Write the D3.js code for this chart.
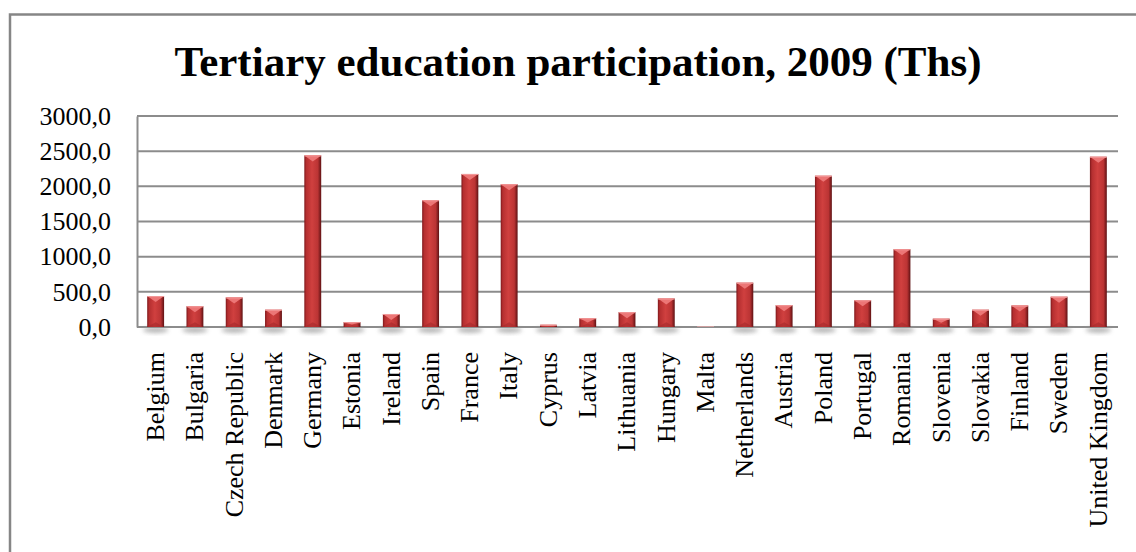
<!DOCTYPE html>
<html>
<head>
<meta charset="utf-8">
<script src="https://cdn.jsdelivr.net/npm/d3@7"></script>
<style>
    body { margin: 0; background: #fff; }
    svg { display: block; font-family: "Liberation Serif", "Times New Roman", serif; }
</style>
</head>
<body>
<svg width="1136" height="552"></svg>
<script>
// Исходные данные
const countries = ["Belgium", "Bulgaria", "Czech Republic", "Denmark", "Germany", "Estonia",
    "Ireland", "Spain", "France", "Italy", "Cyprus", "Latvia", "Lithuania", "Hungary", "Malta",
    "Netherlands", "Austria", "Poland", "Portugal", "Romania", "Slovenia", "Slovakia",
    "Finland", "Sweden", "United Kingdom"];
const values = [440, 295, 420, 245, 2440, 69, 185, 1802, 2176, 2030, 31, 125, 211, 405, 10,
    630, 310, 2150, 380, 1105, 118, 245, 305, 430, 2420];
const yTicks = [0, 500, 1000, 1500, 2000, 2500, 3000];
const title = "Tertiary education participation, 2009 (Ths)";

const data = countries.map((c, i) => ({label: c, value: values[i]}));

let svg = d3.select("svg");

attr_area = {
    left: 137,
    right: 1118,
    top: 116,
    bottom: 327
};

// внешняя рамка
svg.append("rect")
    .attr("x", 10).attr("y", 14.5)
    .attr("width", 1140).attr("height", 560)
    .attr("fill", "none")
    .attr("stroke", "#868686")
    .attr("stroke-width", 2.5);

svg.append("text")
    .attr("x", 578).attr("y", 76)
    .attr("text-anchor", "middle")
    .style("font-size", "43px")
    .style("font-weight", "bold")
    .text(title);

// градиенты и тень
let defs = svg.append("defs");
let grad = defs.append("linearGradient").attr("id", "barGrad")
    .attr("x1", "0%").attr("x2", "100%").attr("y1", "0%").attr("y2", "0%");
[["0%", "#7e181b"], ["12%", "#b52f30"], ["45%", "#d0403f"], ["80%", "#bb3434"], ["100%", "#5e1113"]]
    .forEach(s => grad.append("stop").attr("offset", s[0]).attr("stop-color", s[1]));
defs.append("filter").attr("id", "blur")
    .attr("x", "-50%").attr("y", "-50%").attr("width", "200%").attr("height", "200%")
    .append("feGaussianBlur").attr("stdDeviation", 2);

function drawGraph() {
    const [scX, scY] = createAxis(svg, data, attr_area);
    createBars(svg, data, scX, scY, attr_area);
}

// Функция создания осей и шкал
function createAxis(svg, data, area) {
    let scaleX = d3.scaleBand()
        .domain(data.map(d => d.label))
        .range([area.left - 1, area.right])
        .paddingInner(0.57)
        .paddingOuter(0.285);

    let scaleY = d3.scaleLinear()
        .domain([0, 3000])
        .range([area.bottom, area.top]);

    // сетка
    svg.append("g")
        .selectAll("line")
        .data(yTicks)
        .enter()
        .append("line")
        .attr("x1", area.left)
        .attr("x2", area.right)
        .attr("y1", d => scaleY(d))
        .attr("y2", d => scaleY(d))
        .attr("stroke", "#8c8c8c")
        .attr("stroke-width", 2);

    let axisY = d3.axisLeft(scaleY)
        .tickValues(yTicks)
        .tickSize(0)
        .tickPadding(26)
        .tickFormat(d => d3.format(".1f")(d).replace(".", ","));

    let gY = svg.append("g")
        .attr("transform", `translate(${area.left}, 0)`)
        .call(axisY);
    gY.select(".domain").attr("stroke", "#8c8c8c").attr("stroke-width", 2);
    gY.selectAll("text")
        .style("font-family", "Liberation Serif")
        .style("font-size", "26px")
        .attr("fill", "#000");

    let axisX = d3.axisBottom(scaleX).tickSize(0).tickPadding(0);
    let gX = svg.append("g")
        .attr("transform", `translate(0, ${area.bottom})`)
        .call(axisX);
    gX.select(".domain").remove();
    gX.selectAll("text")
        .style("font-family", "Liberation Serif")
        .style("font-size", "26px")
        .attr("fill", "#000")
        .style("text-anchor", "end")
        .attr("x", -25)
        .attr("y", 0)
        .attr("dy", "0.32em")
        .attr("transform", "rotate(-90)");

    return [scaleX, scaleY];
}

// Функция рисует столбцы
function createBars(svg, data, scaleX, scaleY, area) {
    const w = scaleX.bandwidth();
    let g = svg.append("g");

    // тени под столбцами
    g.selectAll(".shadow")
        .data(data)
        .enter()
        .append("ellipse")
        .attr("cx", d => scaleX(d.label) + w / 2)
        .attr("cy", area.bottom + 3)
        .attr("rx", w * 0.75)
        .attr("ry", 3)
        .attr("fill", "#9a9a9a")
        .attr("opacity", d => d.value > 20 ? 0.7 : 0)
        .attr("filter", "url(#blur)");

    g.selectAll(".bar")
        .data(data)
        .enter()
        .append("rect")
        .attr("x", d => scaleX(d.label))
        .attr("y", d => scaleY(d.value))
        .attr("width", w)
        .attr("height", d => scaleY(0) - scaleY(d.value))
        .attr("fill", d => d.value > 20 ? "url(#barGrad)" : "#e8a7a7");

    // верхняя фаска
    const bev = d => Math.min(6, (scaleY(0) - scaleY(d.value)) / 2);
    g.selectAll(".cap")
        .data(data.filter(d => d.value > 20))
        .enter()
        .append("path")
        .attr("d", d => {
            let x0 = scaleX(d.label), y0 = scaleY(d.value), h = bev(d);
            return `M${x0},${y0} L${x0 + w},${y0} L${x0 + w / 2},${y0 + h} Z`;
        })
        .attr("fill", "#ec7676");
    g.selectAll(".capEdge")
        .data(data.filter(d => d.value > 20))
        .enter()
        .append("line")
        .attr("x1", d => scaleX(d.label))
        .attr("x2", d => scaleX(d.label) + w)
        .attr("y1", d => scaleY(d.value) + 0.5)
        .attr("y2", d => scaleY(d.value) + 0.5)
        .attr("stroke", "#f29a9a")
        .attr("stroke-width", 1);

    // нижняя фаска
    g.selectAll(".base")
        .data(data.filter(d => d.value > 20))
        .enter()
        .append("path")
        .attr("d", d => {
            let x0 = scaleX(d.label), y0 = scaleY(0), h = bev(d) * 0.8;
            return `M${x0},${y0} L${x0 + w},${y0} L${x0 + w / 2},${y0 - h} Z`;
        })
        .attr("fill", "#a52a2c")
        .attr("opacity", 0.6);
}

drawGraph();
</script>
</body>
</html>
